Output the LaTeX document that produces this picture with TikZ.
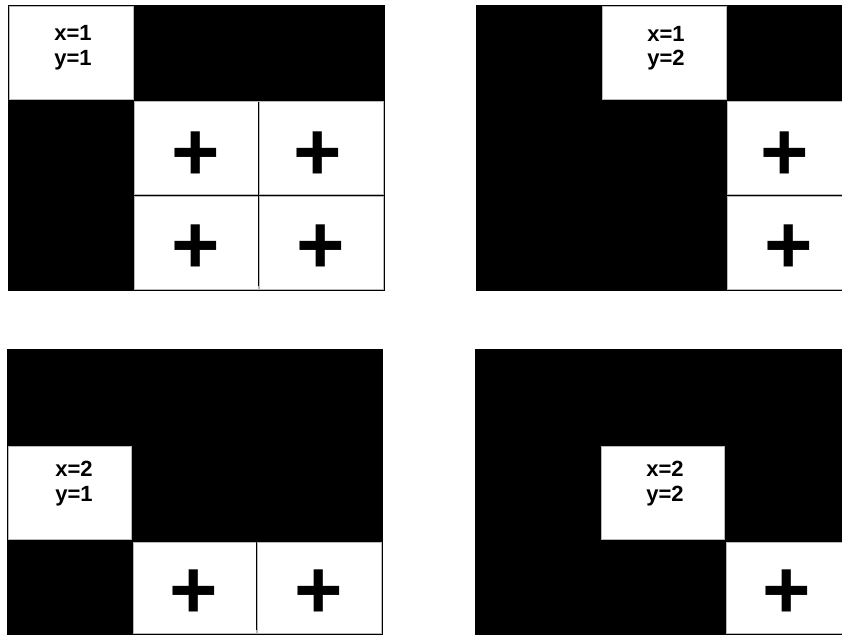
\documentclass[tikz,border=0pt]{standalone}
\usepackage{fontspec}
\setmainfont{Liberation Sans}
\begin{document}
\begin{tikzpicture}[x=1pt,y=-1pt,
  panel/.style={fill=black,draw=black,line width=0.6pt},
  wcell/.style={fill=white,draw=gray!55,line width=0.6pt},
  sep/.style={draw=black,line width=1.1pt},
  lbl/.style={inner sep=0pt,align=center,font=\fontsize{22}{24.5}\selectfont\bfseries},
  plus/.style={inner sep=0pt,font=\fontsize{83}{83}\selectfont\bfseries}]
\useasboundingbox (0,0) rectangle (842,634);
\clip (0,0) rectangle (842,634);
% ---------- panel 1 (top left) ----------
\fill[panel] (8,5) rectangle (384,290);
\filldraw[wcell] (9,6) rectangle (132.8,99.5);
\filldraw[wcell] (134.3,101.5) rectangle (258.2,194.5);
\filldraw[wcell] (259.2,101.5) rectangle (383.3,194.5);
\filldraw[wcell] (134.3,195.8) rectangle (258.2,289.4);
\filldraw[wcell] (259.2,195.8) rectangle (383.3,289.4);
\draw[sep] (258.7,101.5) -- (258.7,286);
\draw[sep] (134.3,195.2) -- (383.3,195.2);
\node[lbl] (l11) at (73,47.5) {x=1\\y=1};
\node[plus] (p1a) at (196,156) {+};
\node[plus] (p1b) at (317.5,156) {+};
\node[plus] (p1c) at (196,249) {+};
\node[plus] (p1d) at (321,249) {+};
% ---------- panel 2 (top right) ----------
\fill[panel] (476,5) rectangle (852,290);
\filldraw[wcell] (602.5,6) rectangle (725.8,99.5);
\filldraw[wcell] (727.5,101.5) rectangle (851.3,194.5);
\filldraw[wcell] (727.5,195.8) rectangle (851.3,289.4);
\draw[sep] (727.5,195.2) -- (851.3,195.2);
\node[lbl] (l12) at (666,48) {x=1\\y=2};
\node[plus] (p2a) at (784.7,156) {+};
\node[plus] (p2b) at (788.3,249) {+};
% ---------- panel 3 (bottom left) ----------
\fill[panel] (7,349) rectangle (382.7,634);
\filldraw[wcell] (8,446.7) rectangle (131.2,539);
\filldraw[wcell] (133.3,541.8) rectangle (255.8,633.2);
\filldraw[wcell] (257,541.8) rectangle (381.2,633.2);
\draw[sep] (256.4,541.8) -- (256.4,630);
\node[lbl] (l21) at (74,483.5) {x=2\\y=1};
\node[plus] (p3a) at (193.8,593.8) {+};
\node[plus] (p3b) at (318.8,593.8) {+};
% ---------- panel 4 (bottom right) ----------
\fill[panel] (475,349) rectangle (852,634);
\filldraw[wcell] (601.5,446.7) rectangle (724,539);
\filldraw[wcell] (726.5,541.8) rectangle (851.3,633.2);
\node[lbl] (l22) at (665,483.5) {x=2\\y=2};
\node[plus] (p4a) at (787.2,593.8) {+};
\end{tikzpicture}
\end{document}
